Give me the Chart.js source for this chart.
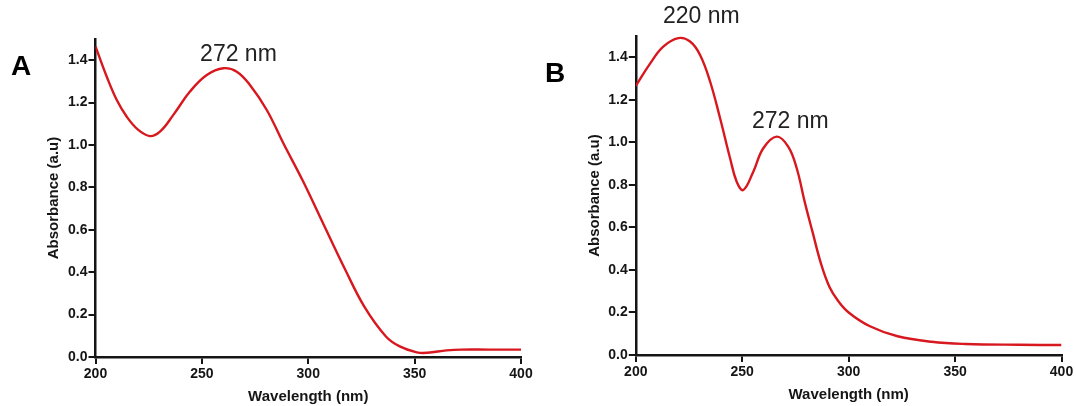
<!DOCTYPE html>
<html>
<head>
<meta charset="utf-8">
<script src="https://cdn.jsdelivr.net/npm/chart.js@4.4.1/dist/chart.umd.min.js"></script>
<style>
  html, body { margin: 0; padding: 0; background: #fff; }
  #wrap { position: relative; width: 1076px; height: 406px; overflow: hidden; }
  canvas { position: absolute; top: 0; }
  #chartA { left: 0; }
  #chartB { left: 538px; }
</style>
</head>
<body>
<div id="wrap">
  <canvas id="chartA" width="538" height="406"></canvas>
  <canvas id="chartB" width="538" height="406"></canvas>
</div>
<script>
// panel A spectrum
const wlA  = [200, 205.3, 210, 214.7, 220.1, 225.6, 230.3, 236.6, 244.4, 252.3, 260.1, 266.4, 272.6, 280.5, 288.3, 297.5, 307, 317, 326.5, 336.5, 343, 351, 356, 365, 372, 385, 400];
const absA = [1.465, 1.322, 1.212, 1.133, 1.071, 1.042, 1.063, 1.142, 1.252, 1.33, 1.362, 1.346, 1.283, 1.165, 1.008, 0.83, 0.63, 0.42, 0.235, 0.097, 0.05, 0.022, 0.02, 0.031, 0.035, 0.035, 0.035];

// panel B spectrum
const wlB  = [200, 206.7, 212.9, 220, 225.5, 230.2, 234.9, 239.6, 244.3, 247.4, 250.5, 255.2, 259.9, 266.2, 271.6, 275.6, 279.5, 283, 287, 291, 295, 300, 310, 323, 339, 355, 380, 400];
const absB = [1.265, 1.37, 1.45, 1.49, 1.474, 1.411, 1.286, 1.113, 0.925, 0.815, 0.776, 0.862, 0.972, 1.027, 0.98, 0.878, 0.714, 0.58, 0.43, 0.32, 0.255, 0.2, 0.135, 0.088, 0.062, 0.052, 0.048, 0.047];

const xTicks = [200, 250, 300, 350, 400];
const yTicks = [0.0, 0.2, 0.4, 0.6, 0.8, 1.0, 1.2, 1.4];

const xTitle = 'Wavelength (nm)';
const yTitle = 'Absorbance (a.u)';

const lineColor = '#d7191f';
const axisColor = '#151515';
const fontFam = '"Liberation Sans", Arial, sans-serif';

// text drawn on top of each panel: panel letter + peak labels (at data coords)
const textPlugin = {
  id: 'panelText',
  afterDraw(chart, args, opts) {
    const ctx = chart.ctx;
    const xs = chart.scales.x, ys = chart.scales.y;
    ctx.save();
    ctx.textAlign = 'center';
    ctx.textBaseline = 'middle';
    ctx.fillStyle = '#000';
    ctx.font = 'bold 28px ' + fontFam;
    ctx.fillText(opts.letter, opts.letterPos[0], opts.letterPos[1]);
    ctx.fillStyle = '#222';
    ctx.font = '23px ' + fontFam;
    opts.peaks.forEach(p => {
      ctx.fillText(p.text, xs.getPixelForValue(p.x), ys.getPixelForValue(p.y));
    });
    ctx.restore();
  }
};

function makeChart(id, wl, abs, cfg) {
  const pts = wl.map((w, i) => ({ x: w, y: abs[i] }));
  return new Chart(document.getElementById(id), {
    type: 'line',
    data: {
      datasets: [{
        data: pts,
        borderColor: lineColor,
        borderWidth: 2.4,
        pointRadius: 0,
        fill: false,
        tension: 0.4
      }]
    },
    options: {
      responsive: false,
      animation: false,
      layout: { padding: { left: 0, right: cfg.right, top: cfg.top, bottom: 0 } },
      plugins: {
        legend: { display: false },
        tooltip: { enabled: false },
        panelText: { letter: cfg.letter, letterPos: cfg.letterPos, peaks: cfg.peaks }
      },
      scales: {
        x: {
          type: 'linear',
          min: 200, max: 400,
          afterFit: s => { s.height = cfg.xHeight; },
          afterBuildTicks: s => { s.ticks = xTicks.map(v => ({ value: v })); },
          border: { display: true, color: axisColor, width: 2.5 },
          grid: { display: true, drawOnChartArea: false, drawTicks: true, tickLength: 7, color: axisColor, lineWidth: 2 },
          ticks: { color: axisColor, padding: 2, maxRotation: 0, font: { family: fontFam, size: 14, weight: 'bold' } },
          title: { display: true, text: xTitle, color: axisColor, padding: { top: 0, bottom: cfg.xTitlePad }, font: { family: fontFam, size: 15, weight: 'bold' } }
        },
        y: {
          type: 'linear',
          min: 0, max: 1.5,
          afterFit: s => { s.width = cfg.yWidth; },
          afterBuildTicks: s => { s.ticks = yTicks.map(v => ({ value: v })); },
          border: { display: true, color: axisColor, width: 2.5 },
          grid: { display: true, drawOnChartArea: false, drawTicks: true, tickLength: 7, color: axisColor, lineWidth: 2 },
          ticks: { color: axisColor, padding: 1, callback: v => v.toFixed(1), font: { family: fontFam, size: 14, weight: 'bold' } },
          title: { display: true, text: yTitle, color: axisColor, padding: { top: cfg.yTitlePad, bottom: 0 }, font: { family: fontFam, size: 15, weight: 'bold' } }
        }
      }
    },
    plugins: [textPlugin]
  });
}

makeChart('chartA', wlA, absA, {
  right: 17, top: 39, xHeight: 49, yWidth: 95.5, xTitlePad: 0, yTitlePad: 44.7,
  letter: 'A', letterPos: [21, 67],
  peaks: [{ text: '272 nm', x: 267.2, y: 1.425 }]
});

makeChart('chartB', wlB, absB, {
  right: 14.5, top: 36, xHeight: 51, yWidth: 97.8, xTitlePad: 2, yTitlePad: 47.5,
  letter: 'B', letterPos: [17, 74],
  peaks: [{ text: '220 nm', x: 230.8, y: 1.59 }, { text: '272 nm', x: 272.6, y: 1.096 }]
});
</script>
</body>
</html>
